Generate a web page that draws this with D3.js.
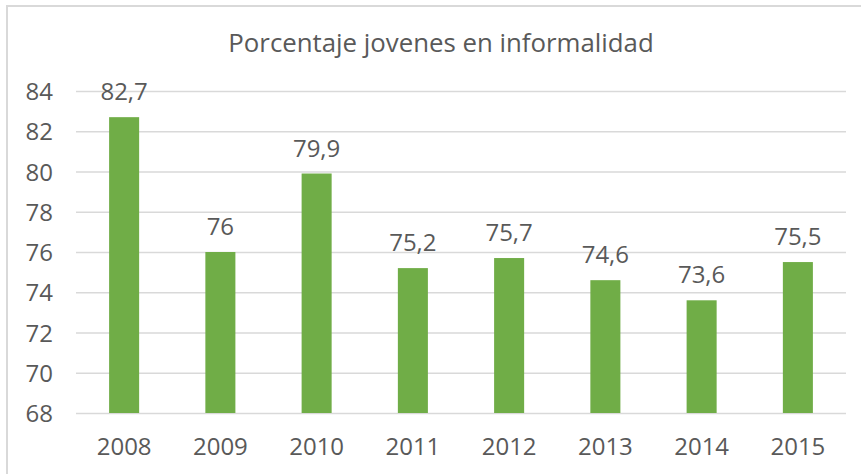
<!DOCTYPE html>
<html>
<head>
<meta charset="utf-8">
<script src="https://cdn.jsdelivr.net/npm/d3@7"></script>
<style>
    body { margin: 0; background: #fff; }
    text { font-family: "Open Sans", sans-serif; fill: #595959; }
    .axis path { display: none; }
    .axis line { stroke: #d9d9d9; stroke-width: 1.5; }
</style>
</head>
<body>
<div id="chart"></div>
<script>
/*global d3*/
var years = ["2008", "2009", "2010", "2011", "2012", "2013", "2014", "2015"];
var values = [82.7, 76, 79.9, 75.2, 75.7, 74.6, 73.6, 75.5];
var yTicks = [68, 70, 72, 74, 76, 78, 80, 82, 84];
var chartTitle = "Porcentaje jovenes en informalidad";

(function () {
    "use strict";
    var svgWidth = 861;
    var svgHeight = 474;
    var margin = {top: 91, right: 15, bottom: 61, left: 76};
    var width = svgWidth - margin.left - margin.right;
    var height = svgHeight - margin.top - margin.bottom;
    var fmt = function (v) {
        return String(v).replace(".", ",");
    };

    var svg = d3.select("#chart").append("svg")
        .attr("width", svgWidth)
        .attr("height", svgHeight);

    // chart area border (right and bottom edges fall outside the picture)
    svg.append("rect")
        .attr("x", 7)
        .attr("y", 6)
        .attr("width", svgWidth + 10)
        .attr("height", svgHeight + 10)
        .attr("fill", "none")
        .attr("stroke", "#d9d9d9")
        .attr("stroke-width", 2);

    svg.append("text")
        .attr("x", 441)
        .attr("y", 52)
        .attr("text-anchor", "middle")
        .style("font-size", "25.8px")
        .text(chartTitle);

    var x = d3.scaleBand().domain(years).range([0, width]).paddingInner(0.688).paddingOuter(0.344);
    var y = d3.scaleLinear().domain([68, 84]).range([height, 0]);

    var g = svg.append("g").attr("transform", "translate(" + margin.left + "," + margin.top + ")");

    // gridlines + y labels
    var yAxis = g.append("g")
        .attr("class", "y axis")
        .call(d3.axisLeft(y).tickValues(yTicks).tickSize(-width).tickPadding(23).tickFormat(d3.format("d")));
    yAxis.selectAll("text")
        .style("font-size", "24px")
        .attr("dy", "0.36em");

    var xAxis = g.append("g")
        .attr("class", "x axis")
        .attr("transform", "translate(0," + height + ")")
        .call(d3.axisBottom(x).tickSize(0).tickPadding(0));
    xAxis.selectAll("text")
        .style("font-size", "24px")
        .attr("y", 42)
        .attr("dy", 0);

    var data = years.map(function (yr, i) {
        return {label: yr, value: values[i]};
    });

    g.selectAll(".bar")
        .data(data)
        .enter()
        .append("rect")
        .attr("class", "bar")
        .attr("fill", "#70ad47")
        .attr("x", function (d) {
            return x(d.label);
        })
        .attr("y", function (d) {
            return y(d.value);
        })
        .attr("width", x.bandwidth())
        .attr("height", function (d) {
            return height - y(d.value);
        });

    g.selectAll(".label")
        .data(data)
        .enter()
        .append("text")
        .attr("class", "label")
        .attr("text-anchor", "middle")
        .style("font-size", "24px")
        .attr("x", function (d) {
            return x(d.label) + x.bandwidth() / 2;
        })
        .attr("y", function (d) {
            return y(d.value) - 17;
        })
        .text(function (d) {
            return fmt(d.value);
        });
}());
</script>
</body>
</html>
